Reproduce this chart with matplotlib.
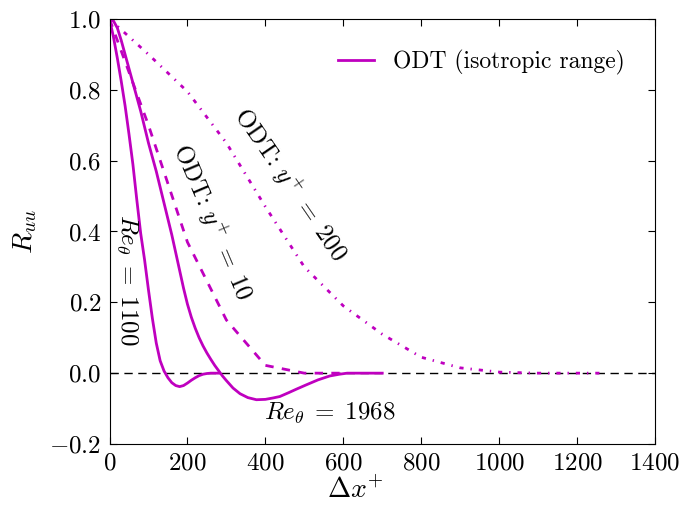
import matplotlib
matplotlib.use("Agg")
import matplotlib.pyplot as plt
import numpy as np

plt.rcParams['font.family'] = 'serif'
plt.rcParams['font.serif'] = ['cmr10', 'DejaVu Serif']
plt.rcParams['mathtext.fontset'] = 'cm'
plt.rcParams['axes.formatter.use_mathtext'] = True
plt.rcParams['lines.scale_dashes'] = False

MAG = '#bf00bf'

# Re_theta = 1100 (solid)
x_1100 = [0, 10, 20, 30, 40, 50, 60, 70, 80, 90, 100, 110, 120, 130, 140, 150,
          160, 170, 180, 190, 200, 210, 220, 230, 240, 250, 260, 280]
y_1100 = [1.0, 0.95, 0.89, 0.825, 0.755, 0.675, 0.59, 0.49, 0.395, 0.32, 0.235,
          0.155, 0.085, 0.035, 0.006, -0.013, -0.027, -0.035, -0.038, -0.035,
          -0.028, -0.02, -0.013, -0.007, -0.003, -0.001, 0.0, 0.0]

# Re_theta = 1968 (solid)
x_1968 = [0, 10, 20, 30, 40, 50, 60, 70, 80, 90, 100, 110, 120, 130, 140, 150,
          160, 170, 180, 190, 200, 210, 220, 230, 240, 250, 260, 270, 280, 290,
          300, 317, 335, 355, 377, 400, 420, 437, 460, 480, 505, 535, 565, 590,
          610, 650, 700]
y_1968 = [1.0, 0.995, 0.975, 0.94, 0.90, 0.86, 0.82, 0.78, 0.74, 0.695, 0.65,
          0.61, 0.57, 0.525, 0.48, 0.435, 0.39, 0.34, 0.29, 0.24, 0.195, 0.158,
          0.127, 0.10, 0.077, 0.057, 0.039, 0.022, 0.007, -0.008, -0.021,
          -0.042, -0.058, -0.069, -0.075, -0.074, -0.07, -0.066, -0.055, -0.045,
          -0.033, -0.019, -0.008, -0.003, 0.0, 0.0, 0.0]

# ODT y+ = 10 (dashed)
x_y10 = [0, 100, 200, 300, 400, 500, 600]
y_y10 = [1.0, 0.70, 0.37, 0.15, 0.022, 0.0, 0.0]

# ODT y+ = 200 (dash-dot)
x_y200 = [0, 100, 200, 300, 400, 500, 600, 700, 800, 900, 1000, 1100, 1200, 1270]
y_y200 = [1.0, 0.90, 0.795, 0.65, 0.47, 0.30, 0.19, 0.11, 0.045, 0.015, 0.003,
          0.0, 0.0, 0.0]

fig = plt.figure(figsize=(6.81, 5.08), dpi=100)
ax = fig.add_axes([0.1608, 0.126, 0.9618 - 0.1608, 0.9626 - 0.126])

ax.axhline(0.0, color='k', lw=1.0, linestyle=(0, (6, 4)), zorder=1)
ax.plot(x_1100, y_1100, color=MAG, lw=2, label='ODT (isotropic range)')
ax.plot(x_1968, y_1968, color=MAG, lw=2)
ax.plot(x_y10, y_y10, color=MAG, lw=2, linestyle=(0, (6, 6)))
ax.plot(x_y200, y_y200, color=MAG, lw=2, linestyle=(0, (3, 5, 1, 5)))

ax.set_xlim(0, 1400)
ax.set_ylim(-0.2, 1.0)
ax.set_xticks(np.arange(0, 1401, 200))
ax.set_yticks(np.arange(-0.2, 1.01, 0.2))
ax.tick_params(direction='in', top=True, right=True, length=5, labelsize=18, pad=6)

ax.set_xlabel(r'$\Delta x^{+}$', fontsize=20)
ax.set_ylabel(r'$R_{uu}$', fontsize=20)
ax.yaxis.set_label_coords(-0.129, 0.5)
ax.xaxis.set_label_coords(0.45, -0.077)

ax.text(464, 0.531, r'ODT: $y^{+}\;=\;200$', rotation=-55.5, fontsize=18,
        ha='center', va='center', rotation_mode='anchor')
ax.text(263, 0.427, r'ODT: $y^{+}\;=\;10$', rotation=-67, fontsize=18,
        ha='center', va='center', rotation_mode='anchor')
ax.text(45, 0.263, r'$Re_{\theta}\;=\;1100$', rotation=-90, fontsize=18,
        ha='center', va='center', rotation_mode='anchor')
ax.text(566, -0.113, r'$Re_{\theta}\;=\;1968$', fontsize=18, ha='center', va='center')

ax.legend(loc='upper right', frameon=False, fontsize=17, handlelength=1.5,
          borderaxespad=0.9)

fig.savefig('out.png', dpi=100)
